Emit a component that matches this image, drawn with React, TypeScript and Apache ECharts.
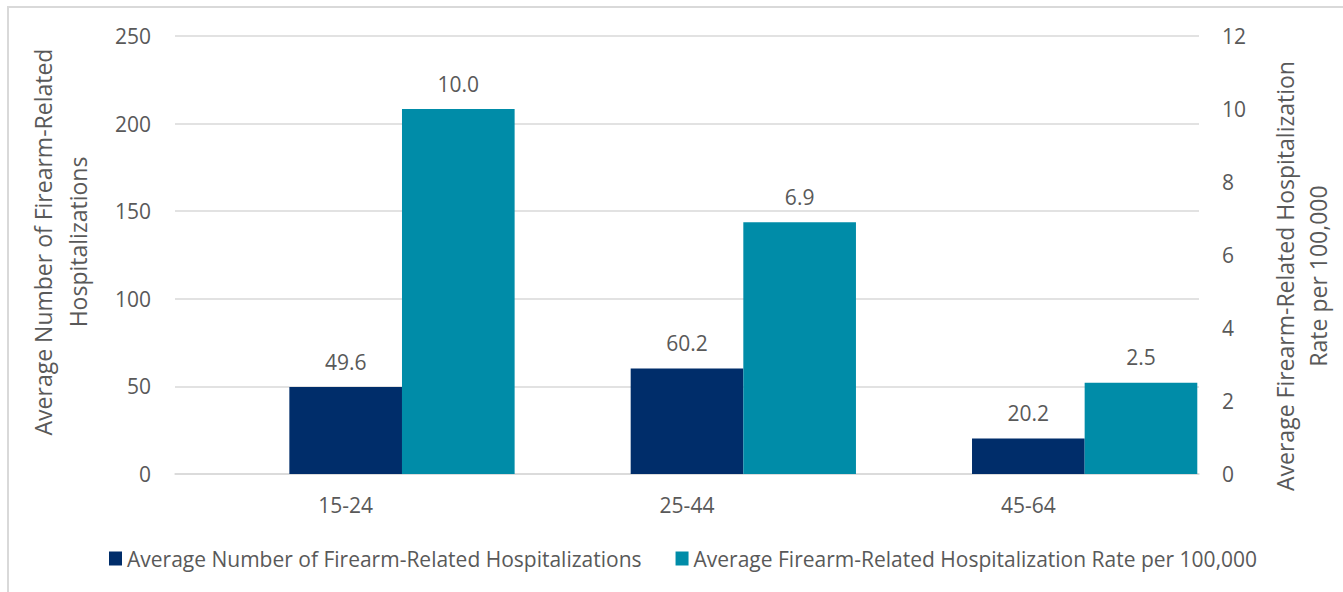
import React, { useEffect, useRef } from "react";
import * as echarts from "echarts";

const categories = ["15-24", "25-44", "45-64"];
const hospitalizations = [49.6, 60.2, 20.2];
const rates = [10.0, 6.9, 2.5];
const seriesNames = [
  "Average Number of Firearm-Related Hospitalizations",
  "Average Firearm-Related Hospitalization Rate per 100,000",
];
const leftAxisTitle = "Average Number of Firearm-Related\nHospitalizations";
const rightAxisTitle = "Average Firearm-Related Hospitalization\nRate per 100,000";

const FONT = "Open Sans";
const TXT = "#595959";
const GRID = "#D9D9D9";

export default function App() {
  const ref = useRef<HTMLDivElement>(null);
  useEffect(() => {
    document.body.style.margin = "0";
    const chart = echarts.init(ref.current!, undefined, { renderer: "svg" });
    const labelCfg = {
      show: true,
      position: "top",
      distance: 15,
      color: TXT,
      fontSize: 21,
      fontFamily: FONT,
      formatter: (p: any) => Number(p.value).toFixed(1),
    };
    chart.setOption({
      animation: false,
      backgroundColor: "#ffffff",
      textStyle: { fontFamily: FONT },
      grid: { left: 175, right: 144, top: 36, bottom: 118, containLabel: false },
      legend: {
        bottom: 23,
        left: 109,
        padding: 0,
        itemWidth: 13,
        itemHeight: 14,
        itemGap: 34,
        icon: "rect",
        textStyle: { color: TXT, fontSize: 21, fontFamily: FONT },
        data: seriesNames,
      },
      graphic: [
        {
          type: "rect",
          shape: { x: 8, y: 7, width: 1400, height: 700 },
          style: { fill: "none", stroke: GRID, lineWidth: 2 },
          silent: true,
        },
        {
          type: "text",
          x: 60,
          y: 242,
          rotation: Math.PI / 2,
          style: {
            text: leftAxisTitle,
            fill: TXT,
            font: `23px '${FONT}'`,
            align: "center",
            verticalAlign: "middle",
            lineHeight: 35,
          },
        },
        {
          type: "text",
          x: 1301,
          y: 276,
          rotation: Math.PI / 2,
          style: {
            text: rightAxisTitle,
            fill: TXT,
            font: `23px '${FONT}'`,
            align: "center",
            verticalAlign: "middle",
            lineHeight: 33,
          },
        },
      ],
      xAxis: {
        type: "category",
        data: categories,
        axisTick: { show: false },
        axisLine: { lineStyle: { color: GRID, width: 1.5 } },
        axisLabel: { color: TXT, fontSize: 21, margin: 20, fontFamily: FONT },
      },
      yAxis: [
        {
          type: "value",
          min: 0,
          max: 250,
          interval: 50,
          position: "left",
          axisLine: { show: false },
          axisTick: { show: false },
          splitLine: { lineStyle: { color: GRID, width: 1.5 } },
          axisLabel: { color: TXT, fontSize: 21, margin: 24, fontFamily: FONT },
        },
        {
          type: "value",
          min: 0,
          max: 12,
          interval: 2,
          position: "right",
          axisLine: { show: false },
          axisTick: { show: false },
          splitLine: { show: false },
          axisLabel: { color: TXT, fontSize: 21, margin: 23, fontFamily: FONT },
        },
      ],
      series: [
        {
          name: "spacer",
          type: "bar",
          yAxisIndex: 0,
          data: [],
          barGap: "0%",
          barCategoryGap: "1%",
        },
        {
          name: seriesNames[0],
          type: "bar",
          yAxisIndex: 0,
          data: hospitalizations,
          barGap: "0%",
          barCategoryGap: "1%",
          itemStyle: { color: "#002D6A" },
          label: labelCfg,
        },
        {
          name: seriesNames[1],
          type: "bar",
          yAxisIndex: 1,
          data: rates,
          barGap: "0%",
          barCategoryGap: "1%",
          itemStyle: { color: "#008CA8" },
          label: labelCfg,
        },
      ],
    });
    return () => chart.dispose();
  }, []);
  return <div ref={ref} style={{ width: 1343, height: 592 }} />;
}
